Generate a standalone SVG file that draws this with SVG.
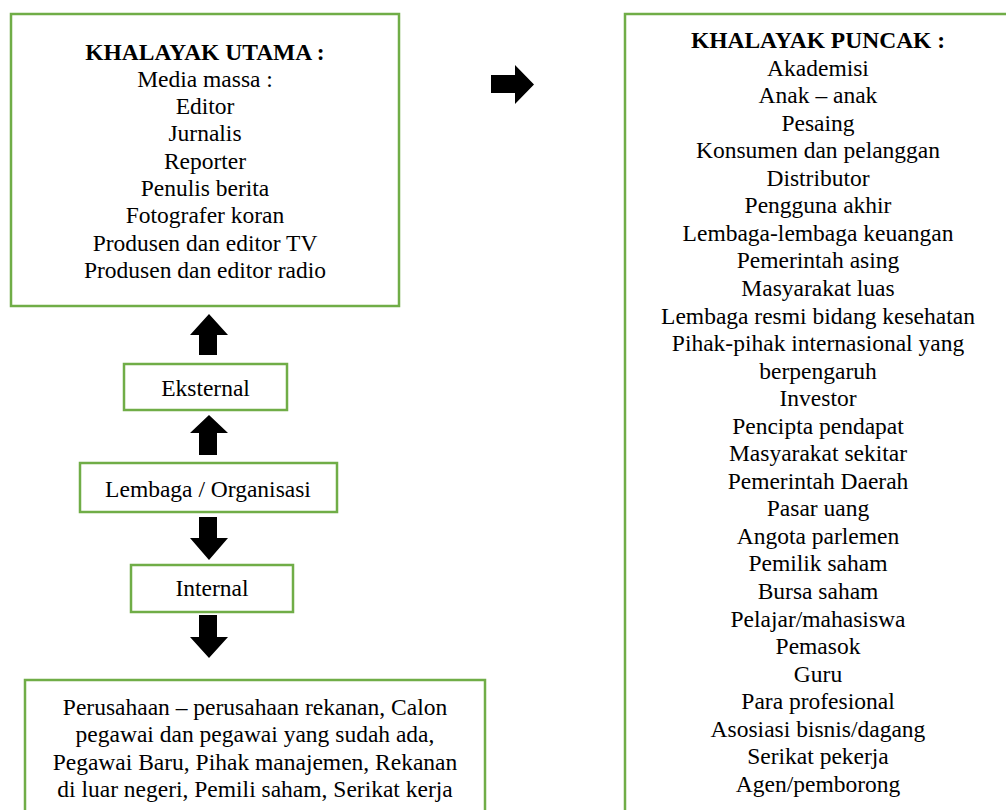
<svg xmlns="http://www.w3.org/2000/svg" width="1006" height="810" viewBox="0 0 1006 810">
<style>
.box{fill:#fff;stroke:#70AD47;stroke-width:2.5}
text{font-size:23.5px;fill:#000;text-anchor:middle}
.b{font-weight:bold}
.arr{fill:#000}
</style>
<rect width="1006" height="810" fill="#fff"/>
<g font-family="'Liberation Serif', 'DejaVu Serif', serif">
<g id="utama">
<rect class="box" x="11" y="14" width="388" height="292"/>
<text class="b" x="205" y="59.5">KHALAYAK UTAMA :</text>
<text x="205" y="86.8">Media massa :</text>
<text x="205" y="114.1">Editor</text>
<text x="205" y="141.4">Jurnalis</text>
<text x="205" y="168.7">Reporter</text>
<text x="205" y="196">Penulis berita</text>
<text x="205" y="223.3">Fotografer koran</text>
<text x="205" y="250.6">Produsen dan editor TV</text>
<text x="205" y="277.9">Produsen dan editor radio</text>
</g>
<g id="puncak">
<rect class="box" x="625" y="14" width="420" height="830"/>
<text class="b" x="818" y="48">KHALAYAK PUNCAK :</text>
<text x="818" y="75.55">Akademisi</text>
<text x="818" y="103.1">Anak – anak</text>
<text x="818" y="130.65">Pesaing</text>
<text x="818" y="158.2">Konsumen dan pelanggan</text>
<text x="818" y="185.75">Distributor</text>
<text x="818" y="213.3">Pengguna akhir</text>
<text x="818" y="240.85">Lembaga-lembaga keuangan</text>
<text x="818" y="268.4">Pemerintah asing</text>
<text x="818" y="295.95">Masyarakat luas</text>
<text x="818" y="323.5">Lembaga resmi bidang kesehatan</text>
<text x="818" y="351.05">Pihak-pihak internasional yang</text>
<text x="818" y="378.6">berpengaruh</text>
<text x="818" y="406.15">Investor</text>
<text x="818" y="433.7">Pencipta pendapat</text>
<text x="818" y="461.25">Masyarakat sekitar</text>
<text x="818" y="488.8">Pemerintah Daerah</text>
<text x="818" y="516.35">Pasar uang</text>
<text x="818" y="543.9">Angota parlemen</text>
<text x="818" y="571.45">Pemilik saham</text>
<text x="818" y="599">Bursa saham</text>
<text x="818" y="626.55">Pelajar/mahasiswa</text>
<text x="818" y="654.1">Pemasok</text>
<text x="818" y="681.65">Guru</text>
<text x="818" y="709.2">Para profesional</text>
<text x="818" y="736.75">Asosiasi bisnis/dagang</text>
<text x="818" y="764.3">Serikat pekerja</text>
<text x="818" y="791.85">Agen/pemborong</text>
</g>
<g id="eksternal">
<rect class="box" x="124" y="364" width="163" height="46"/>
<text x="205.5" y="396">Eksternal</text>
</g>
<g id="lembaga">
<rect class="box" x="80" y="463" width="257" height="49"/>
<text x="208" y="497">Lembaga / Organisasi</text>
</g>
<g id="internal">
<rect class="box" x="131" y="565" width="162" height="47"/>
<text x="212" y="596">Internal</text>
</g>
<g id="internal-list">
<rect class="box" x="25" y="680" width="460" height="160"/>
<text x="255" y="715">Perusahaan – perusahaan rekanan, Calon</text>
<text x="255" y="742.3">pegawai dan pegawai yang sudah ada,</text>
<text x="255" y="769.6">Pegawai Baru, Pihak manajemen, Rekanan</text>
<text x="255" y="796.9">di luar negeri, Pemili saham, Serikat kerja</text>
</g>
</g>
<g id="connectors">
<polygon class="arr" points="209,314 228,335 217,335 217,355 199,355 199,335 190,335"/>
<polygon class="arr" points="209,415 228,433 217,433 217,455 199,455 199,433 190,433"/>
<polygon class="arr" points="199,517 217,517 217,538 228,538 209,560 190,538 199,538"/>
<polygon class="arr" points="199,615 217,615 217,637 228,637 209,658 190,637 199,637"/>
<polygon class="arr" points="491,75 515,75 515,65 534,84.5 515,104 515,93 491,93"/>
</g>
</svg>
